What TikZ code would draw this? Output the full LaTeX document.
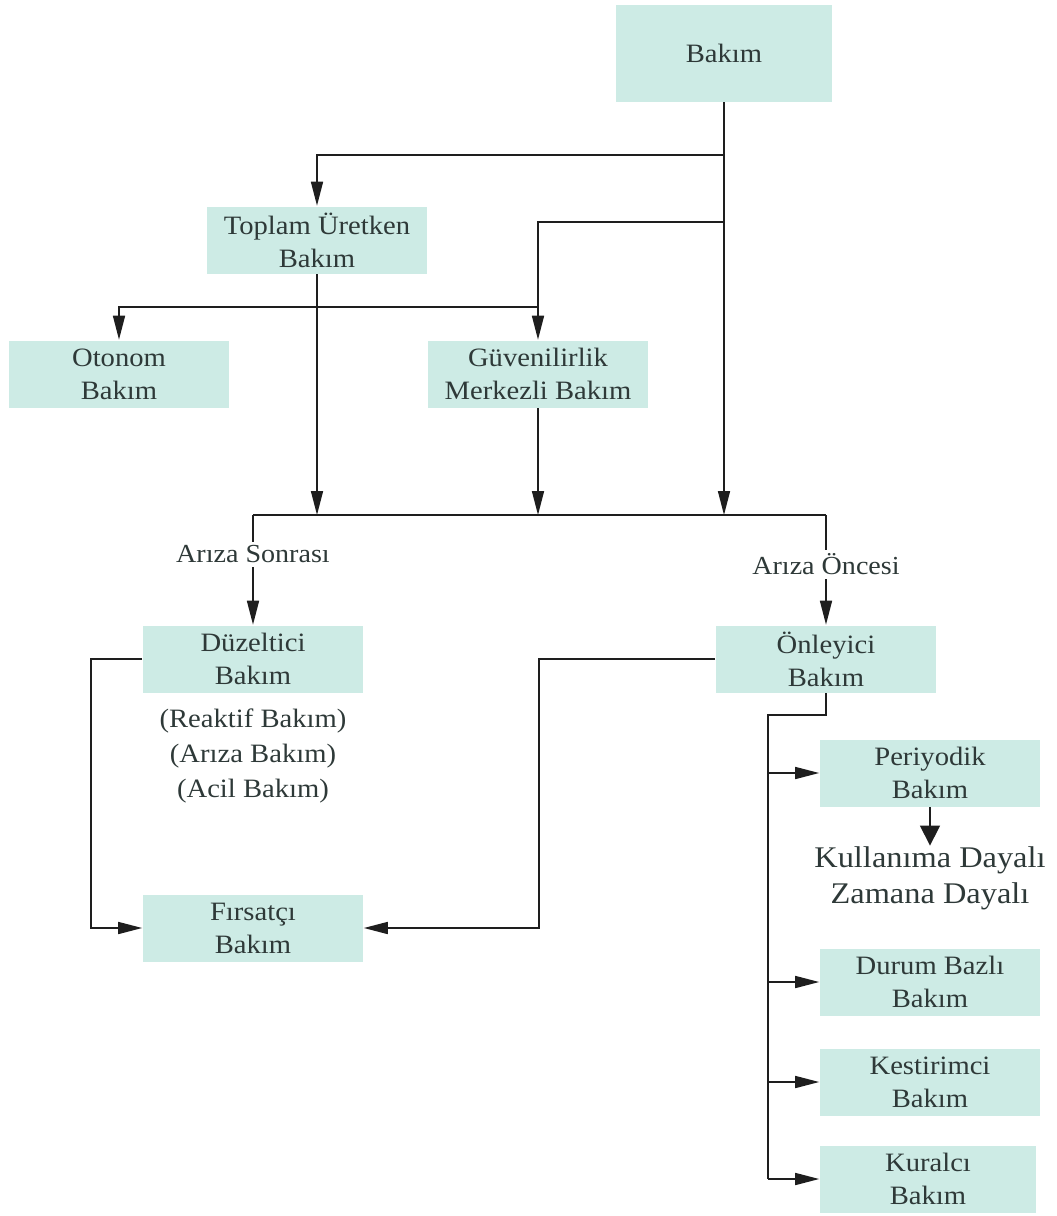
\documentclass[tikz,border=0pt]{standalone}
\usepackage{fontspec}
\setmainfont{Liberation Serif}[FakeStretch=1.08]
\usetikzlibrary{arrows.meta, calc}

\definecolor{boxfill}{HTML}{CDEBE5}
\definecolor{txt}{HTML}{2E3938}
\definecolor{linecol}{HTML}{1E1E1E}

\tikzset{
  kutu/.style={fill=boxfill, text=txt, align=center, inner sep=0pt,
    minimum width=220pt, minimum height=67pt, font=\fontsize{26.5}{33}\selectfont},
  ok/.style={-{Triangle[length=24pt, width=12pt]}},
  etiket/.style={fill=white, text=txt, inner sep=4pt, font=\fontsize{26}{30}\selectfont},
  aciklama/.style={text=txt, align=center, inner sep=0pt, font=\fontsize{26.5}{35}\selectfont},
}

\begin{document}
\begin{tikzpicture}[x=1pt, y=-1pt, line width=1.6pt, draw=linecol]
\useasboundingbox (0,0) rectangle (1057,1216);

% kutular
\node[kutu, minimum width=216pt, minimum height=97pt] (bakim) at (724,53) {Bakım};
\node[kutu] (toplam) at (317,240) {Toplam Üretken\\Bakım};
\node[kutu] (otonom) at (119,374) {Otonom\\Bakım};
\node[kutu] (guven) at (538,374) {Güvenilirlik\\Merkezli Bakım};
\node[kutu] (duzeltici) at (253,659) {Düzeltici\\Bakım};
\node[kutu] (onleyici) at (826,659) {Önleyici\\Bakım};
\node[kutu] (firsatci) at (253,928) {Fırsatçı\\Bakım};
\node[kutu] (periyodik) at (930,773) {Periyodik\\Bakım};
\node[kutu] (durum) at (930,982) {Durum Bazlı\\Bakım};
\node[kutu] (kestirimci) at (930,1082) {Kestirimci\\Bakım};
\node[kutu, minimum width=216pt] (kuralci) at (928,1179) {Kuralcı\\Bakım};

\node[aciklama] (reaktif) at (253,756) {(Reaktif Bakım)\\(Arıza Bakım)\\(Acil Bakım)};
\node[aciklama, font=\fontsize{30}{36}\selectfont] (kullanim) at (930,878) {Kullanıma Dayalı\\Zamana Dayalı};

\coordinate (bus) at (253,515);
\coordinate (spine) at (768,715);

% ust seviye
\draw[ok] (bakim.south) -- (bakim.south |- bus);
\draw[ok] (bakim.south |- 0,155) -| (toplam.north);
\draw[ok] (bakim.south |- 0,222) -| (guven.north);
\draw[ok] (guven.north |- 0,307) -| (otonom.north);
\draw[ok] (toplam.south) -- (toplam.south |- bus);
\draw[ok] (guven.south) -- (guven.south |- bus);

% ariza oncesi / sonrasi
\draw (bus) -- (bus -| onleyici.north);
\draw[ok] (bus) -- node[etiket, pos=0.36] {Arıza Sonrası} (duzeltici.north);
\draw[ok] (bus -| onleyici.north) -- node[etiket, pos=0.45] {Arıza Öncesi} (onleyici.north);

% firsatci
\draw[ok] (duzeltici.west) -- ++(-51,0) |- (firsatci.west);
\draw[ok] (onleyici.west) -- ++(-176,0) |- (firsatci.east);

% onleyici alt dallar
\draw (onleyici.south) |- (spine) -- (spine |- kuralci.west);
\foreach \n in {periyodik, durum, kestirimci, kuralci}
  \draw[ok] (spine |- \n.west) -- (\n.west);
\draw[-{Triangle[length=20pt, width=20pt]}] (periyodik.south) -- (kullanim.north);
\end{tikzpicture}
\end{document}
